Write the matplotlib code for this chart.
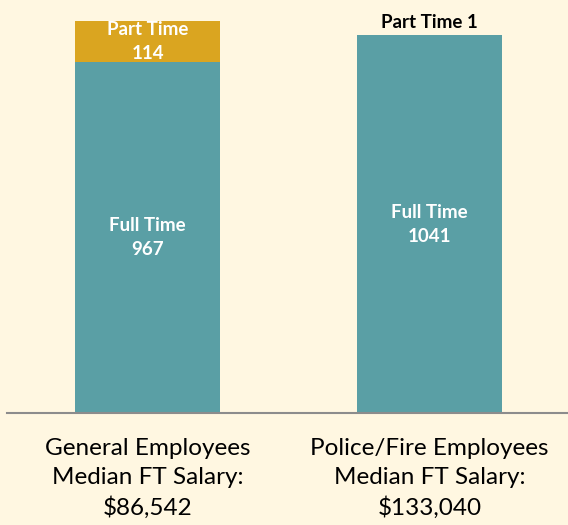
import matplotlib.pyplot as plt

# data
groups = ["General Employees\nMedian FT Salary:\n$86,542",
          "Police/Fire Employees\nMedian FT Salary:\n$133,040"]
full_time = [967, 1041]
part_time = [114, 1]

bg = "#FFF7E1"
teal = "#5A9FA5"
gold = "#DAA520"

plt.rcParams['font.family'] = ['Lato', 'DejaVu Sans']

fig = plt.figure(figsize=(5.68, 5.25), dpi=100, facecolor=bg)
ax = fig.add_axes([6.5 / 568, 112 / 525, 1 - 6.5 / 568, 413 / 525])
ax.set_facecolor(bg)

x = range(len(groups))
ax.bar(x, full_time, width=0.513, color=teal)
ax.bar(x, part_time, width=0.513, bottom=full_time, color=gold)

# labels inside / above the segments
for i in x:
    ax.text(i, full_time[i] / 2, f"Full Time\n{full_time[i]}", ha='center', va='center',
            color='white', fontweight='bold', fontsize=13.5, linespacing=1.5)
    if part_time[i] > 20:
        ax.text(i, full_time[i] + part_time[i] / 2, f"Part Time\n{part_time[i]}",
                ha='center', va='center', color='white', fontweight='bold',
                fontsize=13.5, linespacing=1.5)
    else:
        ax.text(i, full_time[i] + part_time[i] + 10, f"Part Time {part_time[i]}",
                ha='center', va='bottom', color='black', fontweight='bold', fontsize=13.5)

ax.set_xlim(-0.5, 1.49)
ax.set_ylim(0, 1138)
ax.set_xticks(list(x))
ax.set_xticklabels(groups, fontsize=17.5, linespacing=1.45)
ax.tick_params(axis='x', length=0, pad=18)
ax.set_yticks([])
for s in ['top', 'left', 'right']:
    ax.spines[s].set_visible(False)
ax.spines['bottom'].set_color('#8C8C8C')
ax.spines['bottom'].set_linewidth(1.5)

fig.savefig("out.png", dpi=100, facecolor=bg)
